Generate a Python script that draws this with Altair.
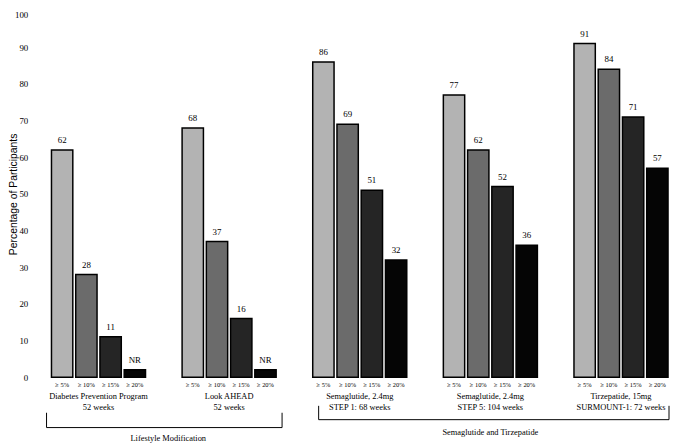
import altair as alt
import pandas as pd

# ---- data ----
group_line1 = ["Diabetes Prevention Program", "Look AHEAD", "Semaglutide, 2.4mg",
               "Semaglutide, 2.4mg", "Tirzepatide, 15mg"]
group_line2 = ["52 weeks", "52 weeks", "STEP 1: 68 weeks", "STEP 5: 104 weeks",
               "SURMOUNT-1: 72 weeks"]
thresholds = ["≥ 5%", "≥ 10%", "≥ 15%", "≥ 20%"]

dpp_values = [62, 28, 11, 2]
look_ahead_values = [68, 37, 16, 2]
step1_values = [86, 69, 51, 32]
step5_values = [77, 62, 52, 36]
surmount1_values = [91, 84, 71, 57]

dpp_labels = ["62", "28", "11", "NR"]
look_ahead_labels = ["68", "37", "16", "NR"]
step1_labels = ["86", "69", "51", "32"]
step5_labels = ["77", "62", "52", "36"]
surmount1_labels = ["91", "84", "71", "57"]

bracket_labels = ["Lifestyle Modification", "Semaglutide and Tirzepatide"]
bracket_first = [0, 2]
bracket_last = [1, 4]

bar_colors = ["#b3b3b3", "#6b6b6b", "#252525", "#050505"]

# ---- build table ----
groups = [a + "\n" + b for a, b in zip(group_line1, group_line2)]
series_values = [dpp_values, look_ahead_values, step1_values, step5_values, surmount1_values]
series_labels = [dpp_labels, look_ahead_labels, step1_labels, step5_labels, surmount1_labels]

rows = []
for g, vals, labs in zip(groups, series_values, series_labels):
    for t, v, l in zip(thresholds, vals, labs):
        rows.append({"group": g, "threshold": t, "value": v, "label": l})
df = pd.DataFrame(rows)

SERIF = "Liberation Serif"
W, H = 624, 371

x_axis = alt.Axis(title=None, domain=False, ticks=False, labelAngle=0,
                  labelFont=SERIF, labelFontSize=8.5, labelColor="black",
                  labelPadding=15, labelBaseline="top", labelLineHeight=11,
                  labelLimit=0, labelOverlap=False,
                  labelExpr="split(datum.label, '\\n')")
x_enc = alt.X("group:N", sort=groups,
              scale=alt.Scale(paddingInner=0.28, paddingOuter=0), axis=x_axis)
xo_enc = alt.XOffset("threshold:N", sort=thresholds,
                     scale=alt.Scale(paddingInner=0.12, paddingOuter=0))
y_axis = alt.Axis(values=list(range(0, 101, 10)), domain=False, ticks=False,
                  grid=False, labelFont=SERIF, labelFontSize=9,
                  labelColor="black", labelPadding=24, labelOverlap=False,
                  labelBaseline={"condition": {"test": "datum.value >= 100",
                                               "value": "top"},
                                 "value": "middle"},
                  title="Percentage of Participants",
                  titleFont="Liberation Sans", titleFontSize=10.5,
                  titleFontWeight="normal", titleColor="black",
                  titleX=-38.5, titleBaseline="middle")
y_enc = alt.Y("value:Q", scale=alt.Scale(domain=[0, 100]), axis=y_axis)

base = alt.Chart(df)

bars = base.mark_bar(stroke="black", strokeWidth=1.5).encode(
    x=x_enc,
    xOffset=xo_enc,
    y=y_enc,
    color=alt.Color("threshold:N", sort=thresholds,
                    scale=alt.Scale(domain=thresholds, range=bar_colors), legend=None),
)

value_text = base.mark_text(font=SERIF, fontSize=9, baseline="bottom", dy=-5,
                            color="black").encode(
    x=x_enc,
    xOffset=xo_enc,
    y=y_enc,
    text="label:N",
)

thr_text = base.mark_text(font=SERIF, fontSize=6.5, baseline="middle",
                          color="black").encode(
    x=x_enc,
    xOffset=xo_enc,
    y=alt.value(H + 8),
    text="threshold:N",
)

layers = [bars, value_text, thr_text]

# bracket styling: (left offset, right offset), (tick top, line y, label y), label anchor
bracket_offsets = [(-5, 6), (6, 1)]
bracket_heights = [(H + 36, H + 51, H + 62), (H + 29, H + 43, H + 56)]
label_pos = [(0, 1.0, 23), (3, 0.5, 0)]
for lab, i0, i1, (lo, ro), (yt, yl, ylab), (lg, lb, ldx) in zip(
        bracket_labels, bracket_first, bracket_last, bracket_offsets,
        bracket_heights, label_pos):
    bdf = pd.DataFrame({"g0": [groups[i0]], "g1": [groups[i1]], "lg": [groups[lg]],
                        "label": [lab]})
    bc = alt.Chart(bdf)
    layers.append(bc.mark_rule(color="black", strokeWidth=1, xOffset=lo, x2Offset=ro).encode(
        x=alt.X("g0:N", sort=groups, bandPosition=0, axis=x_axis),
        x2=alt.X2("g1:N", bandPosition=1),
        y=alt.value(yl),
    ))
    layers.append(bc.mark_rule(color="black", strokeWidth=1, xOffset=lo).encode(
        x=alt.X("g0:N", sort=groups, bandPosition=0, axis=x_axis),
        y=alt.value(yt), y2=alt.value(yl),
    ))
    layers.append(bc.mark_rule(color="black", strokeWidth=1, xOffset=ro).encode(
        x=alt.X("g1:N", sort=groups, bandPosition=1, axis=x_axis),
        y=alt.value(yt), y2=alt.value(yl),
    ))
    layers.append(bc.mark_text(font=SERIF, fontSize=8.5, baseline="middle", dx=ldx,
                               color="black").encode(
        x=alt.X("lg:N", sort=groups, bandPosition=lb, axis=x_axis),
        y=alt.value(ylab),
        text="label:N",
    ))

chart = alt.layer(*layers).properties(
    width=W, height=H,
    autosize=alt.AutoSizeParams(type="none"),
    padding={"left": 44, "top": 0, "right": 2, "bottom": 67},
).configure(font=SERIF).configure_view(stroke=None)

chart.save("out.html", embed_options={"renderer": "svg", "actions": False})
